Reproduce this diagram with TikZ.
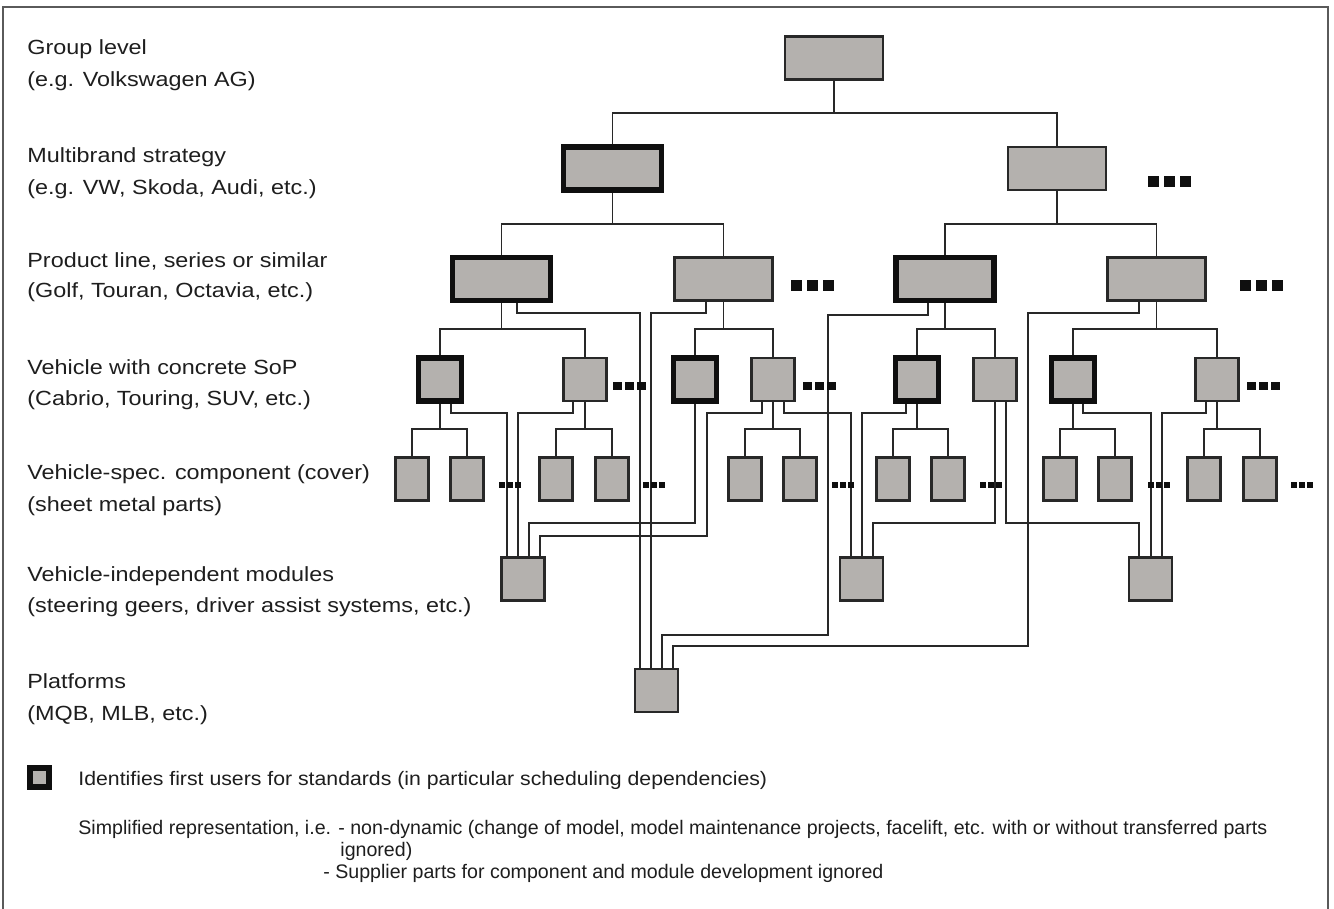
\documentclass[tikz,border=0pt]{standalone}
\usepackage{fontspec}
\setmainfont{Liberation Sans}
\newfontfamily\labfont[FakeStretch=1.14]{Liberation Sans}
\newfontfamily\legfont[FakeStretch=1.09]{Liberation Sans}
\usetikzlibrary{backgrounds}
\definecolor{boxgray}{RGB}{180,177,174}
\definecolor{linec}{RGB}{40,40,40}
\definecolor{thickc}{RGB}{15,15,15}
\definecolor{textc}{RGB}{30,30,30}
\definecolor{framec}{RGB}{90,90,90}
\tikzset{
  box/.style={draw=linec, fill=boxgray, line width=1.1pt, inner sep=0pt, outer sep=0pt},
  first/.style={draw=thickc, line width=2.7pt},
  wide/.style={minimum width=49pt, minimum height=21.5pt},
  sq/.style={minimum width=21.5pt, minimum height=21.5pt},
  comp/.style={minimum width=16.5pt, minimum height=21.5pt},
  conn/.style={draw=linec, line width=0.7pt},
  lab/.style={anchor=base west, inner sep=0pt, text=textc, font=\labfont\fontsize{10.25pt}{12pt}\selectfont},
  leg/.style={anchor=base west, inner sep=0pt, text=textc, font=\legfont\fontsize{9.75pt}{12pt}\selectfont},
  legb/.style={anchor=base west, inner sep=0pt, text=textc, font=\fontsize{9.8pt}{12pt}\selectfont},
  bigdots/.pic={\fill[thickc] (0,0) rectangle (11,11); \fill[thickc] (16,0) rectangle (27,11); \fill[thickc] (32,0) rectangle (43,11);},
  middots/.pic={\fill[thickc] (0,0) rectangle (9,8); \fill[thickc] (12,0) rectangle (21,8); \fill[thickc] (24,0) rectangle (33,8);},
  smalldots/.pic={\fill[thickc] (0,0) rectangle (6,6); \fill[thickc] (8,0) rectangle (14,6); \fill[thickc] (16,0) rectangle (22,6);}
}
\begin{document}
\begin{tikzpicture}[x=0.5pt,y=-0.5pt]
\useasboundingbox (0,0) rectangle (1334,909);
\draw[framec, line width=1pt] (3,909) -- (3,7) -- (1328,7) -- (1328,909);

% labels
\node[lab] (t1a) at (27,55) {Group level};
\node[lab] (t1b) at (27,87) {(e.g. Volkswagen AG)};
\node[lab] (t2a) at (27,163) {Multibrand strategy};
\node[lab] (t2b) at (27,195) {(e.g. VW, Skoda, Audi, etc.)};
\node[lab] (t3a) at (27,268) {Product line, series or similar};
\node[lab] (t3b) at (27,298) {(Golf, Touran, Octavia, etc.)};
\node[lab] (t4a) at (27,374) {Vehicle with concrete SoP};
\node[lab] (t4b) at (27,406) {(Cabrio, Touring, SUV, etc.)};
\node[lab] (t5a) at (27,479) {Vehicle-spec. component (cover)};
\node[lab] (t5b) at (27,511) {(sheet metal parts)};
\node[lab] (t6a) at (27,581) {Vehicle-independent modules};
\node[lab] (t6b) at (27,612) {(steering geers, driver assist systems, etc.)};
\node[lab] (t7a) at (27,688) {Platforms};
\node[lab] (t7b) at (27,720) {(MQB, MLB, etc.)};

% boxes
\node[box, wide] (T) at (834,58) {};
\node[box, wide, first] (L1a) at (612.5,168.5) {};
\node[box, wide] (L1b) at (1057,168.5) {};
\node[box, wide, first] (A) at (501.5,279) {};
\node[box, wide] (B) at (723.5,279) {};
\node[box, wide, first] (C) at (945,279) {};
\node[box, wide] (D) at (1156.5,279) {};
\node[box, sq, first] (a1) at (440,379.5) {};
\node[box, sq] (a2) at (585,379.5) {};
\node[box, sq, first] (b1) at (695,379.5) {};
\node[box, sq] (b2) at (773,379.5) {};
\node[box, sq, first] (c1) at (917,379.5) {};
\node[box, sq] (c2) at (995,379.5) {};
\node[box, sq, first] (d1) at (1073,379.5) {};
\node[box, sq] (d2) at (1217,379.5) {};
\foreach \n/\x in {a11/412,a12/467,a21/556,a22/612,b21/745,b22/800,c11/893,c12/948,d11/1060,d12/1115,d21/1204,d22/1260}
  \node[box, comp] (\n) at (\x,479) {};
\node[box, sq] (M1) at (523,579) {};
\node[box, sq] (M2) at (861.5,579) {};
\node[box, sq] (M3) at (1150.5,579) {};
\node[box, sq] (P) at (656.5,690.5) {};

% markers
\pic at (1148,176) {bigdots};
\pic at (791,280) {bigdots};
\pic at (1240,280) {bigdots};
\pic at (613,382) {middots};
\pic at (803,382) {middots};
\pic at (1247,382) {middots};
\foreach \x in {499,643,832,980,1148,1291} \pic at (\x,482) {smalldots};

\begin{pgfonlayer}{background}
\fill[white] (0,0) rectangle (1334,909);
% tree
\draw[conn] (T.south) -- (T.south |- 0,113) -| (L1a.north);
\draw[conn] (T.south |- 0,113) -| (L1b.north);
\draw[conn] (L1a.south) -- (L1a.south |- 0,224) -| (A.north);
\draw[conn] (L1a.south |- 0,224) -| (B.north);
\draw[conn] (L1b.south) -- (L1b.south |- 0,224) -| (C.north);
\draw[conn] (L1b.south |- 0,224) -| (D.north);
\draw[conn] (A.south) -- (A.south |- 0,329) -| (a1.north);
\draw[conn] (A.south |- 0,329) -| (a2.north);
\draw[conn] (B.south) -- (B.south |- 0,329) -| (b1.north);
\draw[conn] (B.south |- 0,329) -| (b2.north);
\draw[conn] (C.south) -- (C.south |- 0,329) -| (c1.north);
\draw[conn] (C.south |- 0,329) -| (c2.north);
\draw[conn] (D.south) -- (D.south |- 0,329) -| (d1.north);
\draw[conn] (D.south |- 0,329) -| (d2.north);
\foreach \p/\l/\r in {a1/a11/a12,a2/a21/a22,b2/b21/b22,c1/c11/c12,d1/d11/d12,d2/d21/d22}{
  \draw[conn] (\p.south) -- (\p.south |- 0,429) -| (\l.north);
  \draw[conn] (\p.south |- 0,429) -| (\r.north);
}
% platform links
\draw[conn] (517,0 |- A.south) |- (640,313) -- (640,0 |- P.north);
\draw[conn] (706,0 |- B.south) |- (651,313) -- (651,0 |- P.north);
\draw[conn] (928,0 |- C.south) |- (828,315) |- (662,635) -- (662,0 |- P.north);
\draw[conn] (1139,0 |- D.south) |- (1028,313) |- (673,646) -- (673,0 |- P.north);
% module links
\draw[conn] (451,0 |- a1.south) |- (507,413) -- (507,0 |- M1.north);
\draw[conn] (573,0 |- a2.south) |- (518,413) -- (518,0 |- M1.north);
\draw[conn] (b1.south) |- (529,523) -- (529,0 |- M1.north);
\draw[conn] (762,0 |- b2.south) |- (707,413) |- (540,536) -- (540,0 |- M1.north);
\draw[conn] (784,0 |- b2.south) |- (851,413) -- (851,0 |- M2.north);
\draw[conn] (906,0 |- c1.south) |- (862,413) -- (862,0 |- M2.north);
\draw[conn] (c2.south) |- (873,523) -- (873,0 |- M2.north);
\draw[conn] (1006,0 |- c2.south) |- (1139,523) -- (1139,0 |- M3.north);
\draw[conn] (1083,0 |- d1.south) |- (1151,413) -- (1151,0 |- M3.north);
\draw[conn] (1206,0 |- d2.south) |- (1162,413) -- (1162,0 |- M3.north);
\end{pgfonlayer}

% legend
\node[box, first, minimum width=9.5pt, minimum height=9.5pt] (legbox) at (39.5,777.5) {};
\node[leg] (l1) at (78,785) {Identifies first users for standards (in particular scheduling dependencies)};
\node[legb] (l2) at (78,834) {Simplified representation, i.e. - non-dynamic (change of model, model maintenance projects, facelift, etc. with or without transferred parts};
\node[legb] (l3) at (340,856) {ignored)};
\node[legb] (l4) at (323,878) {- Supplier parts for component and module development ignored};
\end{tikzpicture}
\end{document}
